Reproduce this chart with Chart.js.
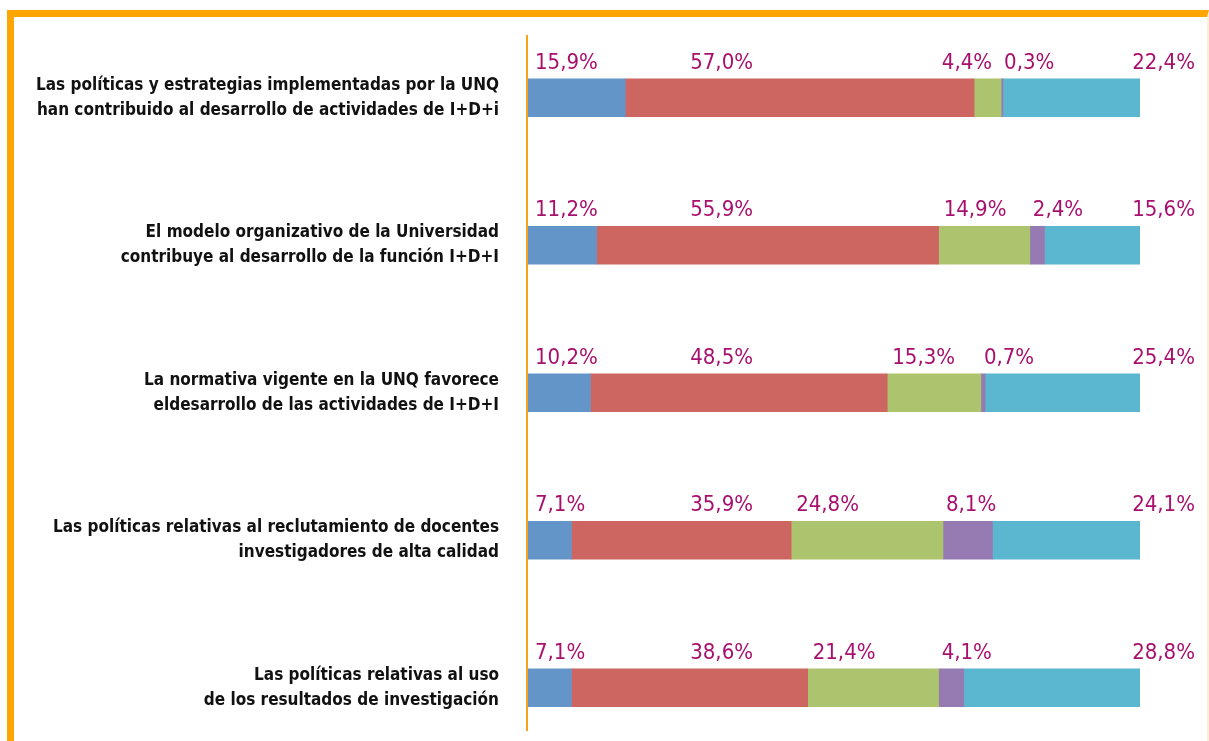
<!DOCTYPE html>
<html>
<head>
<meta charset="utf-8">
<script src="https://cdn.jsdelivr.net/npm/chart.js@4"></script>
<style>
    html, body { margin: 0; padding: 0; background: #fff; overflow: hidden; }
    body { width: 1209px; height: 741px; position: relative; }
    #frame {
        position: absolute; left: 7px; top: 10px; width: 1193px; height: 740px;
        border-top: 7px solid #FFA500; border-left: 7px solid #FFA500;
        border-right: 2px solid #FCEFD2;
    }
    #wrap { position: absolute; left: 0; top: 0; width: 1209px; height: 800px; }
</style>
</head>
<body>
<div id="frame"></div>
<div id="wrap"><canvas id="chart" width="1209" height="800"></canvas></div>
<script>
// Category labels (two lines each)
const categories = [
    ['Las políticas y estrategias implementadas por la UNQ', 'han contribuido al desarrollo de actividades de I+D+i'],
    ['El modelo organizativo de la Universidad', 'contribuye al desarrollo de la función I+D+I'],
    ['La normativa vigente en la UNQ favorece', 'eldesarrollo de las actividades de I+D+I'],
    ['Las políticas relativas al reclutamiento de docentes', 'investigadores de alta calidad'],
    ['Las políticas relativas al uso', 'de los resultados de investigación']
];

// Percentages per segment
const serie1 = [15.9, 11.2, 10.2, 7.1, 7.1];
const serie2 = [57.0, 55.9, 48.5, 35.9, 38.6];
const serie3 = [4.4, 14.9, 15.3, 24.8, 21.4];
const serie4 = [0.3, 2.4, 0.7, 8.1, 4.1];
const serie5 = [22.4, 15.6, 25.4, 24.1, 28.8];

const colors = ['#6495C9', '#CD6660', '#ADC46E', '#957BB2', '#5BB7D0'];

const fmt = v => v.toFixed(1).replace('.', ',') + '%';

// Percent labels above bars + orange axis line
const labelPlugin = {
    id: 'labelPlugin',
    afterDatasetsDraw(chart) {
        const ctx = chart.ctx;
        const xs = chart.scales.x;
        const area = chart.chartArea;
        ctx.save();

        // orange axis line
        ctx.strokeStyle = '#F7A41C';
        ctx.lineWidth = 2;
        ctx.beginPath();
        ctx.moveTo(area.left - 1, 35);
        ctx.lineTo(area.left - 1, 731);
        ctx.stroke();

        ctx.font = '22px "Liberation Sans Narrow", "DejaVu Sans Condensed", sans-serif';
        ctx.fillStyle = '#A8106E';
        ctx.textBaseline = 'alphabetic';
        ctx.textAlign = 'left';
        const n = chart.data.labels.length;
        for (let i = 0; i < n; i++) {
            const bars = chart.data.datasets.map((ds, di) => chart.getDatasetMeta(di).data[i]);
            const y = bars[0].y - bars[0].height / 2 - 10;
            const start = b => Math.min(b.x, b.base);
            const txts = chart.data.datasets.map(ds => fmt(ds.data[i]));
            const ws = txts.map(t => ctx.measureText(t).width);
            const xPos = [];
            xPos[0] = start(bars[0]) + 7;
            xPos[1] = xs.getPixelForValue(26.5);
            xPos[3] = start(bars[3]) + 3;
            xPos[2] = Math.min(start(bars[2]) + 5, xPos[3] - 12 - ws[2]);
            xPos[4] = area.right + 55 - ws[4];
            txts.forEach((t, k) => ctx.fillText(t, xPos[k], y));
        }
        ctx.restore();
    }
};

new Chart(document.getElementById('chart'), {
    type: 'bar',
    data: {
        labels: categories,
        datasets: [
            { data: serie1, backgroundColor: colors[0] },
            { data: serie2, backgroundColor: colors[1] },
            { data: serie3, backgroundColor: colors[2] },
            { data: serie4, backgroundColor: colors[3] },
            { data: serie5, backgroundColor: colors[4] }
        ]
    },
    options: {
        indexAxis: 'y',
        responsive: false,
        animation: false,
        barThickness: 38,
        layout: { padding: { top: 24, bottom: 38.5, left: 0, right: 69 } },
        plugins: {
            legend: { display: false },
            tooltip: { enabled: false }
        },
        scales: {
            x: {
                stacked: true,
                min: 0,
                max: 100,
                display: false
            },
            y: {
                stacked: true,
                grid: { display: false, drawTicks: false },
                border: { display: false },
                afterFit(scale) {
                    scale.width = 528;
                    scale.paddingTop = 0;
                    scale.paddingBottom = 0;
                },
                ticks: {
                    padding: 29,
                    color: '#111',
                    font: { family: '"Liberation Sans Narrow", "DejaVu Sans Condensed", sans-serif', size: 17, weight: 'bold', lineHeight: 1.47 }
                }
            }
        }
    },
    plugins: [labelPlugin]
});
</script>
</body>
</html>
